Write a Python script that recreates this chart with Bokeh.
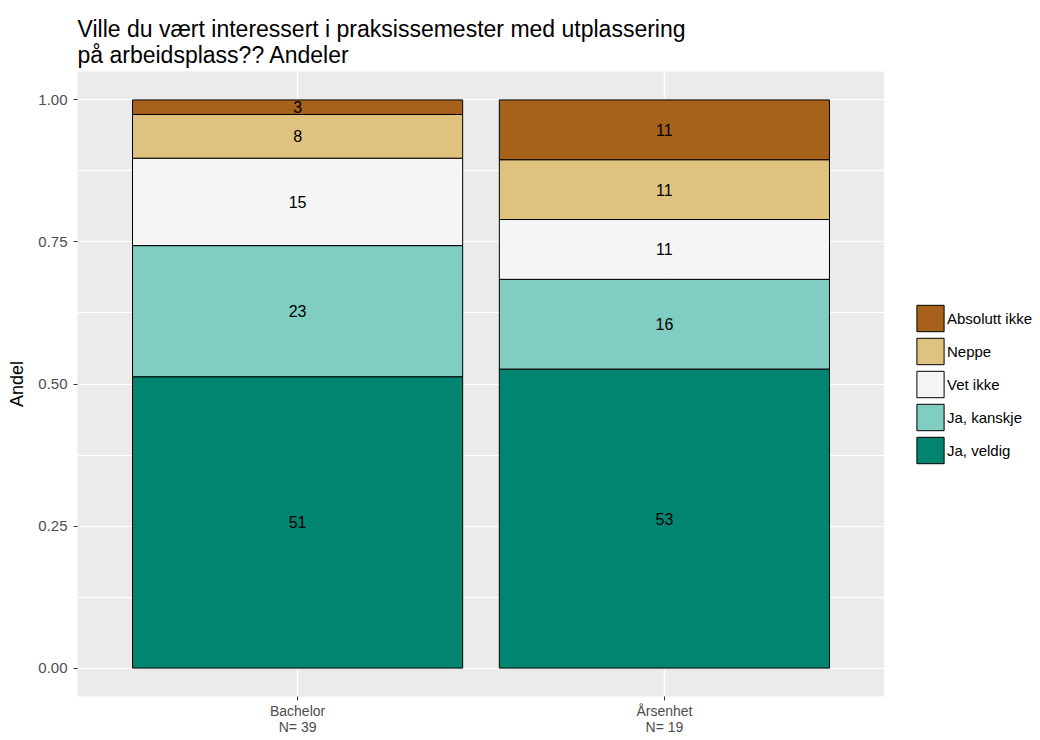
from bokeh.plotting import figure
from bokeh.layouts import row
from bokeh.models import FactorRange, Legend, LegendItem, ColumnDataSource, SingleIntervalTicker
from bokeh.core.properties import value
from bokeh.embed import file_html
from bokeh.resources import INLINE

# ---- data ----
groups = ["Bachelor", "Årsenhet"]
group_n = [39, 19]
answers = ["Ja, veldig", "Ja, kanskje", "Vet ikke", "Neppe", "Absolutt ikke"]  # bottom -> top
colors = ["#018571", "#80CDC1", "#F5F5F5", "#DFC27D", "#A6611A"]
counts_bachelor = [20, 9, 6, 3, 1]
counts_arsenhet = [10, 3, 2, 2, 2]
title_text = "Ville du vært interessert i praksissemester med utplassering\npå arbeidsplass?? Andeler"
y_label = "Andel"
y_ticks = [0.0, 0.25, 0.5, 0.75, 1.0]

FONT = "Liberation Sans"

factors = [f"{g}\nN= {n}" for g, n in zip(groups, group_n)]
counts = dict(zip(factors, [counts_bachelor, counts_arsenhet]))

p = figure(
    x_range=FactorRange(factors=factors, range_padding=0.1),
    y_range=(-0.05, 1.05),
    frame_width=807, frame_height=625,
    output_backend="svg", toolbar_location=None,
    min_border_left=0, min_border_right=0, min_border_top=0, min_border_bottom=0,
    background_fill_color="#EBEBEB", border_fill_color="white",
    outline_line_color=None,
)
p.margin = (9, 0, 0, 4)

# stacked bars
for f in factors:
    tot = sum(counts[f])
    bottom = 0.0
    for ai, a in enumerate(answers):
        frac = counts[f][ai] / tot
        src = ColumnDataSource(dict(x=[f], top=[bottom + frac], bottom=[bottom],
                                    mid=[bottom + frac / 2],
                                    lab=[str(int(round(frac * 100 + 1e-9)))]))
        p.vbar(x="x", top="top", bottom="bottom", width=0.9, source=src,
               fill_color=colors[ai], line_color="black", line_width=1)
        p.text(x="x", y="mid", text="lab", source=src, text_align="center",
               text_baseline="middle", text_font=value(FONT), text_font_size="16px",
               text_color="black")
        bottom += frac

# title
p.title.text = title_text
p.title.text_font = FONT
p.title.text_font_size = "23px"
p.title.text_font_style = "normal"
p.title.text_color = "black"
p.title.align = "left"
p.title.standoff = 8

# axes
p.yaxis.ticker = y_ticks
p.yaxis.major_label_overrides = {t: f"{t:.2f}" for t in y_ticks}
p.yaxis.axis_label = y_label
p.yaxis.axis_label_text_font = FONT
p.yaxis.axis_label_text_font_size = "18px"
p.yaxis.axis_label_text_font_style = "normal"
p.yaxis.axis_label_text_color = "black"
p.yaxis.axis_label_standoff = 8

for ax in (p.xaxis[0], p.yaxis[0]):
    ax.axis_line_color = None
    ax.major_tick_line_color = "#333333"
    ax.major_tick_out = 4
    ax.major_tick_in = 0
    ax.minor_tick_line_color = None
    ax.major_label_text_font = FONT
    ax.major_label_text_font_size = "15px"
    ax.major_label_text_color = "#4D4D4D"
p.xaxis.major_label_text_font_size = "14px"
p.xaxis.major_label_text_line_height = 1.05
p.xaxis.major_label_standoff = 2
p.yaxis.major_label_standoff = 6

# grid
p.ygrid.ticker = SingleIntervalTicker(interval=0.125)
p.ygrid.grid_line_color = "white"
p.ygrid.grid_line_width = 1
p.xgrid.grid_line_color = "white"
p.xgrid.grid_line_width = 1.5

# ---- legend panel (separate figure to the right) ----
lg = figure(
    frame_width=148, frame_height=625,
    x_range=(0, 1), y_range=(0, 1),
    x_axis_type=None, y_axis_type=None,
    output_backend="svg", toolbar_location=None,
    min_border_left=0, min_border_right=0, min_border_top=62, min_border_bottom=0,
    background_fill_color="white", border_fill_color="white", outline_line_color=None,
)
lg.margin = (9, 0, 0, 0)
lg.xgrid.visible = False
lg.ygrid.visible = False
leg_items = []
for a, c in reversed(list(zip(answers, colors))):
    r = lg.vbar(x=[0.5], top=[0.5], bottom=[0.5], width=0.5,
                fill_color=c, line_color="black", line_width=1, visible=False)
    leg_items.append(LegendItem(label=a, renderers=[r]))
legend = Legend(items=leg_items, location="center_left", orientation="vertical",
                glyph_width=34, glyph_height=33, label_height=33, spacing=0,
                label_standoff=0, padding=0, margin=29,
                border_line_color=None, background_fill_alpha=0,
                label_text_font=FONT, label_text_font_size="15px", label_text_color="black")
lg.add_layout(legend, "center")

layout = row(p, lg, spacing=0)
open("out.html", "w").write(file_html(layout, INLINE))
